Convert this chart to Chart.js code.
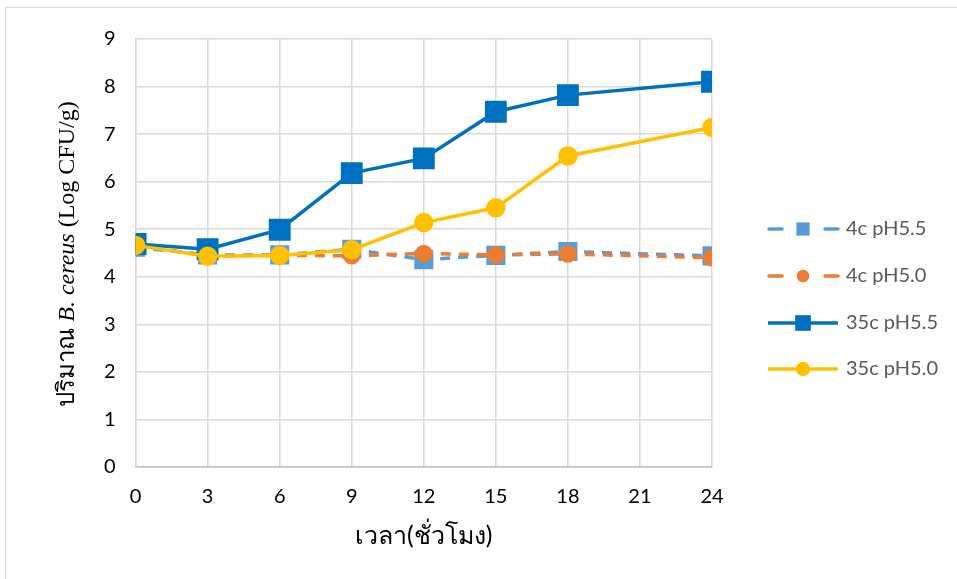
<!DOCTYPE html>
<html>
<head>
<meta charset="utf-8">
<script src="https://cdn.jsdelivr.net/npm/chart.js@4.4.1/dist/chart.umd.min.js"></script>
<style>
  body { margin: 0; background: #fff; }
  #wrap { width: 957px; height: 579px; position: relative; }
</style>
</head>
<body>
<div id="wrap"><canvas id="myChart" width="957" height="579"></canvas></div>
<script>
// time in hours (no sample at 21)
var hours = [0, 3, 6, 9, 12, 15, 18, 24];
var xTicks = [0, 3, 6, 9, 12, 15, 18, 21, 24];

var c4ph55 = [4.62, 4.46, 4.46, 4.58, 4.36, 4.45, 4.53, 4.44];
var c4ph50 = [4.66, 4.44, 4.45, 4.44, 4.49, 4.46, 4.48, 4.40];
var c35ph55 = [4.69, 4.58, 4.99, 6.18, 6.49, 7.47, 7.82, 8.10];
var c35ph50 = [4.66, 4.43, 4.45, 4.57, 5.14, 5.45, 6.54, 7.14];

var seriesNames = ['4c pH5.5', '4c pH5.0', '35c pH5.5', '35c pH5.0'];

var ctx = document.getElementById('myChart');

function pts(arr) {
    var out = [];
    for (var i = 0; i < hours.length; i++) {
        out.push({ x: hours[i], y: arr[i] });
    }
    return out;
}

var tickFont = { family: 'Lato, "Noto Sans", sans-serif', size: 20 };

// outer frame + custom y title + legend
var extras = {
    id: 'extras',
    beforeDraw: function(chart) {
        var c = chart.ctx;
        c.save();
        c.fillStyle = '#fff';
        c.fillRect(0, 0, chart.width, chart.height);
        c.strokeStyle = '#d9d9d9';
        c.lineWidth = 1;
        c.strokeRect(5.5, 7.5, chart.width, chart.height);
        c.restore();
    },
    afterDraw: function(chart) {
        var c = chart.ctx;
        c.save();
        // y axis title, mixed italic
        var parts = [
            { t: 'ปริมาณ ', f: '24px "Liberation Serif", "Noto Serif", serif' },
            { t: 'B. cereus', f: 'italic 24px "Liberation Serif", serif' },
            { t: ' (Log CFU/g)', f: '24px "Liberation Serif", serif' }
        ];
        var total = 0;
        parts.forEach(function(p) { c.font = p.f; p.w = c.measureText(p.t).width; total += p.w; });
        c.translate(68, 254);
        c.rotate(-Math.PI / 2);
        c.fillStyle = '#000';
        c.textBaseline = 'middle';
        var x = -total / 2;
        parts.forEach(function(p) { c.font = p.f; c.fillText(p.t, x, 0); x += p.w; });
        c.restore();

        // legend
        c.save();
        var rows = [229, 276, 323, 369];
        chart.data.datasets.forEach(function(ds, i) {
            var y = rows[i];
            c.strokeStyle = ds.borderColor;
            c.lineWidth = 3.5;
            if (ds.borderDash && ds.borderDash.length) {
                c.lineCap = 'round';
                c.beginPath();
                c.moveTo(769, y); c.lineTo(782, y);
                c.moveTo(825, y); c.lineTo(838, y);
                c.stroke();
            } else {
                c.lineCap = 'butt';
                c.beginPath();
                c.moveTo(768, y); c.lineTo(838, y);
                c.stroke();
            }
            c.fillStyle = ds.pointBackgroundColor;
            if (ds.pointStyle === 'rect') {
                var s = ds.pointRadius * Math.SQRT2 * 0.85;
                c.fillRect(803 - s / 2, y - s / 2, s, s);
            } else {
                c.beginPath();
                c.arc(803, y, ds.pointRadius * 0.9, 0, Math.PI * 2);
                c.fill();
            }
            c.fillStyle = '#595959';
            c.font = '20px Lato, "Noto Sans", sans-serif';
            c.textBaseline = 'middle';
            c.fillText(seriesNames[i], 846, y);
        });
        c.restore();
    }
};

var myChart = new Chart(ctx, {
    type: 'line',
    data: {
        datasets: [{
            label: seriesNames[0],
            data: pts(c4ph55),
            borderColor: '#5B9BD5',
            backgroundColor: '#5B9BD5',
            pointBackgroundColor: '#5B9BD5',
            pointBorderColor: '#5B9BD5',
            borderDash: [10, 8],
            borderWidth: 3.5,
            pointStyle: 'rect',
            pointRadius: 11,
            order: 4
        }, {
            label: seriesNames[1],
            data: pts(c4ph50),
            borderColor: '#ED7D31',
            backgroundColor: '#ED7D31',
            pointBackgroundColor: '#ED7D31',
            pointBorderColor: '#ED7D31',
            borderDash: [10, 8],
            borderWidth: 3.5,
            pointStyle: 'circle',
            pointRadius: 7,
            order: 3
        }, {
            label: seriesNames[2],
            data: pts(c35ph55),
            borderColor: '#0070C0',
            backgroundColor: '#0070C0',
            pointBackgroundColor: '#0070C0',
            pointBorderColor: '#0070C0',
            borderWidth: 3.5,
            pointStyle: 'rect',
            pointRadius: 13,
            order: 2
        }, {
            label: seriesNames[3],
            data: pts(c35ph50),
            borderColor: '#FFC000',
            backgroundColor: '#FFC000',
            pointBackgroundColor: '#FFC000',
            pointBorderColor: '#FFC000',
            borderWidth: 3.5,
            pointStyle: 'circle',
            pointRadius: 8,
            order: 1
        }]
    },
    options: {
        responsive: false,
        animation: false,
        layout: { padding: { left: 84, right: 245, top: 39, bottom: 24 } },
        plugins: {
            legend: { display: false },
            tooltip: { enabled: false }
        },
        scales: {
            x: {
                type: 'linear',
                min: 0,
                max: 24,
                afterBuildTicks: function(axis) {
                    axis.ticks = xTicks.map(function(v) { return { value: v }; });
                },
                grid: { color: '#d9d9d9', lineWidth: 1.5, drawTicks: false },
                border: { color: '#bfbfbf', width: 1.5 },
                ticks: { color: '#000', font: tickFont, padding: 18, maxRotation: 0 },
                title: {
                    display: true,
                    text: 'เวลา(ชั่วโมง)',
                    color: '#000',
                    font: { family: 'Lato, "Noto Sans", sans-serif', size: 25 },
                    padding: { top: -6, bottom: 4 }
                }
            },
            y: {
                min: 0,
                max: 9,
                ticks: { stepSize: 1, color: '#000', font: tickFont, padding: 20 },
                grid: { color: '#d9d9d9', lineWidth: 1.5, drawTicks: false },
                border: { color: '#d9d9d9', width: 1.5 }
            }
        }
    },
    plugins: [extras]
});
</script>
</body>
</html>
